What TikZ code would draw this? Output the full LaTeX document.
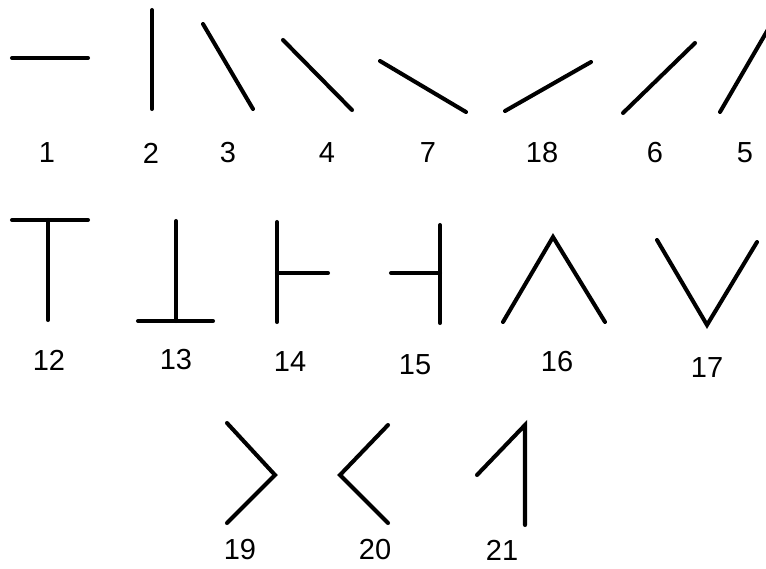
\documentclass[tikz,border=0pt]{standalone}
\usepackage{fontspec}
\setmainfont{Liberation Sans}
\tikzset{
  stroke/.style={line width=2.3pt, line cap=round, line join=miter},
  num/.style={font=\fontsize{16.5}{18}\selectfont, inner sep=0pt}
}

\begin{document}
\begin{tikzpicture}[x=0.02cm, y=-0.02cm]
  \useasboundingbox (0,0) rectangle (766,568);

  % Row 1: single strokes
  \draw[stroke] (12,58) -- (88,58);
  \draw[stroke] (152,10) -- (152,109);
  \draw[stroke] (203,24) -- (253,109);
  \draw[stroke] (283,40) -- (352,110);
  \draw[stroke] (380,61) -- (466,112);
  \draw[stroke] (505,111) -- (591,62);
  \draw[stroke] (623,113) -- (695,43);
  \draw[stroke] (720,112) -- (770,26);

  \node[num] (l1) at (47,153) {1};
  \node[num] (l2) at (151,153) {2};
  \node[num] (l3) at (228,153) {3};
  \node[num] (l4) at (327,153) {4};
  \node[num] (l7) at (428,153) {7};
  \node[num] (l18) at (542,153) {18};
  \node[num] (l6) at (655,153) {6};
  \node[num] (l5) at (745,153) {5};

  % Row 2: junctions
  \draw[stroke] (12,220) -- (88,220) (48,220) -- (48,320);
  \draw[stroke] (176,221) -- (176,321) (138,321) -- (213,321);
  \draw[stroke] (277,222) -- (277,322) (277,273) -- (328,273);
  \draw[stroke] (440,225) -- (440,323) (391,273) -- (440,273);
  \draw[stroke] (503,322) -- (553,237) -- (605,322);
  \draw[stroke] (657,240) -- (707,325) -- (757,242);

  \node[num] (l12) at (49,360) {12};
  \node[num] (l13) at (176,360) {13};
  \node[num] (l14) at (290,362) {14};
  \node[num] (l15) at (415,365) {15};
  \node[num] (l16) at (557,362) {16};
  \node[num] (l17) at (707,368) {17};

  % Row 3: corners
  \draw[stroke] (227,423) -- (275,475) -- (227,523);
  \draw[stroke] (388,425) -- (340,475) -- (388,523);
  \draw[stroke] (477,475) -- (525,425) -- (525,525);

  \node[num] (l19) at (240,550) {19};
  \node[num] (l20) at (375,550) {20};
  \node[num] (l21) at (502,550) {21};
\end{tikzpicture}
\end{document}
